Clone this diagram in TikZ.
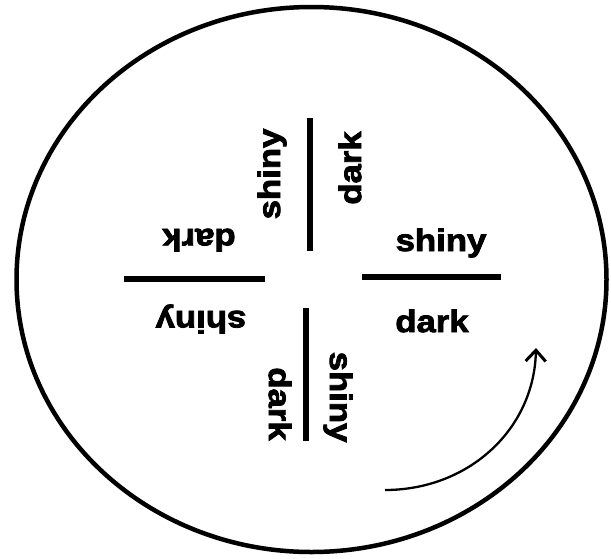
\documentclass[tikz,border=0pt]{standalone}
\usepackage{fontspec}
\setmainfont{Liberation Sans}[BoldFeatures={FakeStretch=1.12,FakeBold=2.6}]
\usetikzlibrary{arrows.meta,shapes.geometric}
\begin{document}
\begin{tikzpicture}[x=1pt,y=-1pt,
  lbl/.style={font=\fontsize{31}{31}\selectfont\bfseries, inner sep=0pt},
  bar/.style={line width=5.5pt},
  ring/.style={line width=4.5pt},
  turn/.style={line width=2.3pt, -{Straight Barb[length=11pt,width=20pt,line width=3pt]}}]
\useasboundingbox (0,0) rectangle (611,558);
\fill[white] (0,0) rectangle (611,558);
\node[draw, ring, ellipse, minimum width=590pt, minimum height=545pt, inner sep=0pt] (rim) at (311.5,279.5) {};
% bars
\coordinate (t1) at (310,118); \coordinate (t2) at (310,251);
\coordinate (b1) at (306,308); \coordinate (b2) at (306,441);
\coordinate (l1) at (124,279); \coordinate (l2) at (265,279);
\coordinate (r1) at (362,277); \coordinate (r2) at (501,277);
\draw[bar] (t1) -- (t2);
\draw[bar] (b1) -- (b2);
\draw[bar] (l1) -- (l2);
\draw[bar] (r1) -- (r2);
% labels
\node[lbl, rotate=90] (ts) at (272,174) {shiny};
\node[lbl, rotate=90] (td) at (350,168) {dark};
\node[lbl, rotate=180] (ld) at (199,240) {dark};
\node[lbl, rotate=180] (ls) at (201,319) {shiny};
\node[lbl] (rs) at (441,243) {shiny};
\node[lbl] (rd) at (432,321) {dark};
\node[lbl, rotate=-90] (bd) at (280,404) {dark};
\node[lbl, rotate=-90] (bs) at (338,397) {shiny};
% arrow
\coordinate (a0) at (385,490);
\coordinate (a1) at (536,348);
\draw[turn] (a0) .. controls (468,490) and (534,430) .. (a1);
\end{tikzpicture}
\end{document}
